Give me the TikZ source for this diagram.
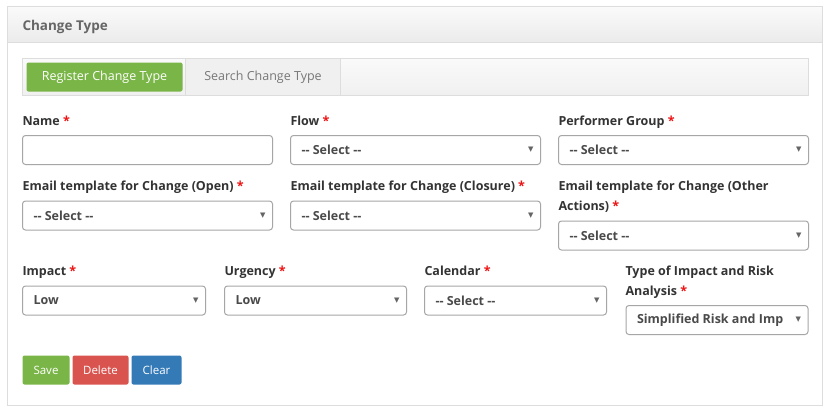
\documentclass[tikz,border=0pt]{standalone}
\usepackage{fontspec}
\setmainfont{Open Sans}
\newfontfamily\symfont{DejaVu Sans}
\usepackage{tikz}
\usetikzlibrary{positioning}
\usetikzlibrary{backgrounds}
\definecolor{paneledge}{HTML}{DDDDDD}
\definecolor{headtop}{HTML}{FAFAFA}
\definecolor{headbot}{HTML}{EBEBEB}
\definecolor{headtext}{HTML}{666666}
\definecolor{tabtop}{HTML}{FAFAFA}
\definecolor{tabbot}{HTML}{F0F0F0}
\definecolor{tabtext}{HTML}{777777}
\definecolor{labeltext}{HTML}{333333}
\definecolor{seltext}{HTML}{4A4A4A}
\definecolor{fieldedge}{HTML}{A6A6A6}
\definecolor{okgreen}{HTML}{7AB547}
\definecolor{delred}{HTML}{D9534F}
\definecolor{clrblue}{HTML}{337AB7}
\definecolor{reqred}{HTML}{EE1111}
\newcommand{\req}{\textcolor{reqred}{*}}
\tikzset{every picture/.style={line width=1pt},
lbl/.style={anchor=base west,inner sep=0pt,text=labeltext,font=\bfseries\fontsize{12.5}{15}\selectfont},
field/.style={draw=fieldedge,fill=white,rounded corners=3pt,anchor=north west,inner sep=0pt,minimum height=29pt},
choice/.style={anchor=west,inner sep=0pt,text=seltext,font=\bfseries\fontsize{12.5}{14}\selectfont},
caret/.style={anchor=east,inner sep=0pt,text=seltext!85,font=\symfont\fontsize{7}{7}\selectfont},
btn/.style={anchor=north west,inner sep=0pt,minimum height=29pt,rounded corners=2pt,text=white,font=\fontsize{11.5}{13}\selectfont}}
\newcommand{\dropbox}[5]{%
\node[field,minimum width=#4pt] (#1) at (#2,#3) {};
\node[choice,right=11pt of #1.west] (#1-v) {#5};
\node[caret,left=7pt of #1.east] (#1-c) {▼};
}

\begin{document}
\begin{tikzpicture}[x=1pt,y=-1pt]
\useasboundingbox (0,0) rectangle (832,413);
% panel and header
\node[draw=paneledge,fill=white,anchor=north west,minimum width=815pt,minimum height=399pt,inner sep=0pt] (panel) at (7,6) {};
\node[draw=paneledge,top color=headtop,bottom color=headbot,anchor=north west,minimum width=815pt,minimum height=36pt,inner sep=0pt] (head) at (7,6) {};
\node[anchor=base west,inner sep=0pt,text=headtext,font=\bfseries\fontsize{13.5}{15}\selectfont] (title) at (22,30) {Change Type};
% tabs
\node[draw=paneledge,top color=tabtop,bottom color=tabbot,anchor=north west,minimum width=786pt,minimum height=37pt,inner sep=0pt] (tabbar) at (22,58) {};
\node[draw=paneledge,fill=tabbot,anchor=north west,minimum width=155pt,minimum height=37pt,inner sep=0pt,text=tabtext,font=\fontsize{12.5}{15}\selectfont] (tabsearch) at (185,58) {Search Change Type};
\node[fill=okgreen,rounded corners=2pt,anchor=north west,minimum width=156pt,minimum height=29pt,inner sep=0pt,text=white,font=\fontsize{12.5}{15}\selectfont] (tabreg) at (26,62) {Register Change Type};
% row 1
\foreach \n / \x / \t in {name/22/Name,flow/290/Flow,perf/558/Performer Group} {
\node[lbl] (l-\n) at (\x,125) {\t\ \req};
}
\node[field,minimum width=250pt] (f-name) at (22,135) {};
\dropbox{f-flow}{290}{135}{250}{-{}- Select -{}-}
\dropbox{f-perf}{558}{135}{250}{-{}- Select -{}-}
% row 2
\node[lbl] (l-open) at (22,190.5) {Email template for Change (Open) \req};
\node[lbl] (l-close) at (290,190.5) {Email template for Change (Closure) \req};
\node[lbl] (l-other) at (558,190.5) {Email template for Change (Other};
\node[lbl] (l-other2) at (558,210.5) {Actions) \req};
\dropbox{f-open}{22}{200.5}{250}{-{}- Select -{}-}
\dropbox{f-close}{290}{200.5}{250}{-{}- Select -{}-}
\dropbox{f-other}{558}{220.5}{250}{-{}- Select -{}-}
% row 3
\foreach \n / \x / \t in {imp/22/Impact,urg/224/Urgency,cal/424/Calendar} {
\node[lbl] (l-\n) at (\x,275.5) {\t\ \req};
}
\node[lbl] (l-risk) at (625,275.5) {Type of Impact and Risk};
\node[lbl] (l-risk2) at (625,295.5) {Analysis \req};
\dropbox{f-imp}{22}{285.5}{183}{Low}
\dropbox{f-urg}{224}{285.5}{182}{Low}
\dropbox{f-cal}{424}{285.5}{182}{-{}- Select -{}-}
\dropbox{f-risk}{625.5}{305}{182}{Simplified Risk and Imp}
% buttons
\node[btn,fill=okgreen,minimum width=47pt] (b-save) at (22,355) {Save};
\node[btn,fill=delred,minimum width=56pt] (b-del) at (72,355) {Delete};
\node[btn,fill=clrblue,minimum width=50pt] (b-clear) at (131,355) {Clear};
\end{tikzpicture}
\end{document}
